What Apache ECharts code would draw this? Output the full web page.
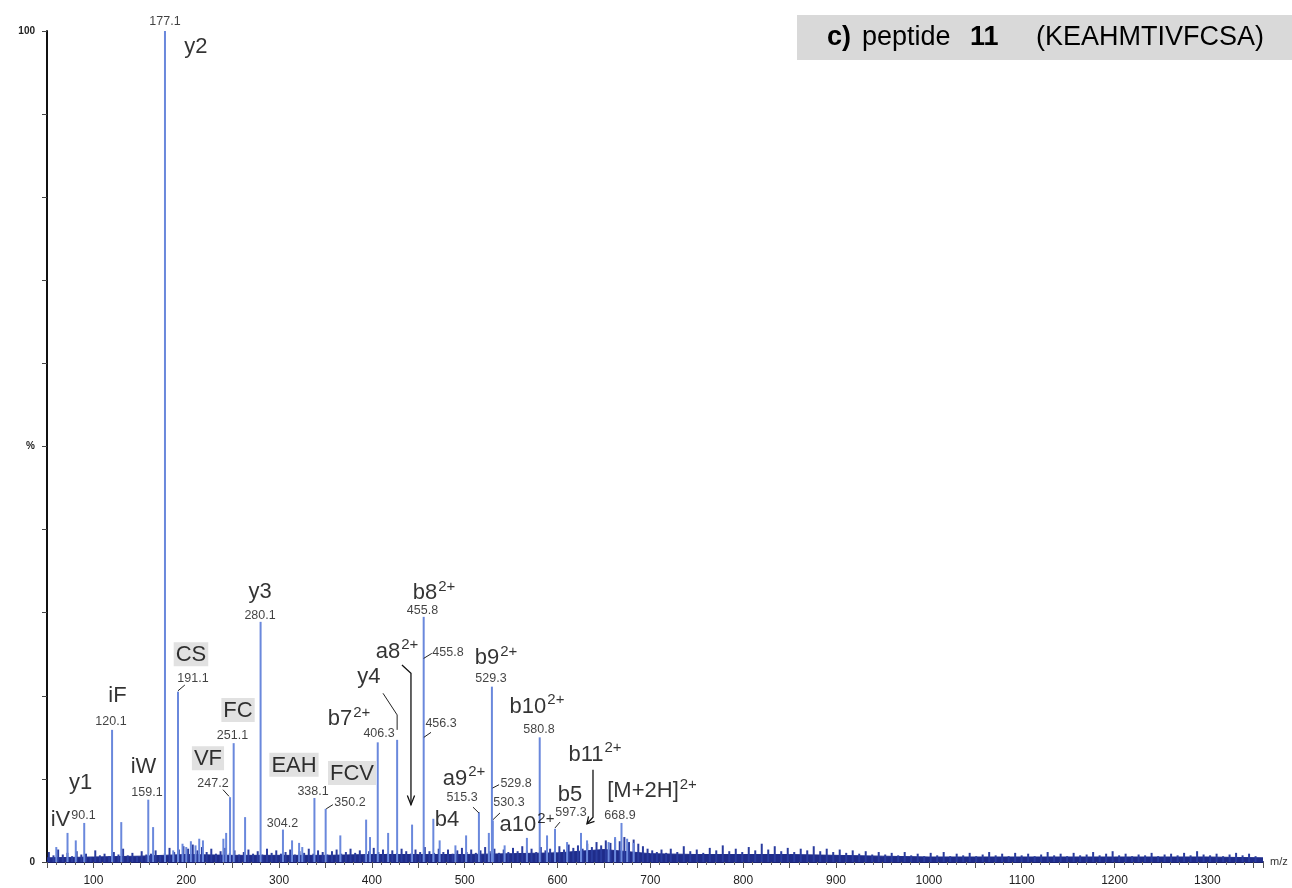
<!DOCTYPE html>
<html>
<head>
<meta charset="utf-8">
<script src="https://cdn.jsdelivr.net/npm/echarts@6/dist/echarts.min.js"></script>
<style>
html, body { margin: 0; padding: 0; background: #fff; }
#chart { width: 1292px; height: 888px; }
</style>
</head>
<body>
<div id="chart"></div>
<script>
// fragment peaks: [m/z, relative intensity %]
var peaks = [
  [60, 1.8], [72.1, 3.5], [81, 2.6], [90.1, 4.7], [120.1, 15.9], [130, 4.8],
  [159.1, 7.5], [164.3, 4.2], [177.1, 100], [186, 1.4], [191.1, 20.5], [196, 2.2],
  [200, 1.8], [205, 2.5], [210, 2.0], [214, 2.8], [218, 2.6], [240, 2.8], [243, 3.5],
  [247.2, 7.8], [251.1, 14.3], [263.4, 5.4], [280.1, 28.9], [304.2, 3.9], [314, 2.6],
  [321.6, 2.3], [325, 1.8], [338.1, 7.7], [350.2, 6.4], [366, 3.2], [393.8, 5.1],
  [398, 3.0], [406.3, 14.4], [417.5, 3.5], [427.2, 14.7], [443.3, 4.5], [455.8, 29.5],
  [466.2, 5.2], [473, 2.6], [490, 2.0], [501.5, 3.2], [515.3, 6.0], [526, 3.5],
  [529.3, 21.1], [530.3, 5.0], [543, 2.0], [567, 2.9], [580.8, 15.0], [588.7, 3.2],
  [597.3, 4.0], [610.3, 2.4], [625.3, 3.5], [631.8, 2.6], [655, 2.4], [662, 3.0],
  [668.9, 4.7], [675, 2.8], [682, 2.3]
];

// baseline noise spikes: [m/z, %]
var noise = [
  [52,1.2],[57,0.8],[62,1.5],[67,0.9],[72,1.1],[77,0.7],[82,1.3],[87,0.9],[92,1.0],[97,0.6],
  [102,1.4],[107,0.8],[112,1.0],[117,0.7],[122,1.2],[127,0.9],[132,1.6],[137,0.8],[142,1.1],[147,0.7],
  [152,1.3],[157,0.9],[162,1.0],[167,1.4],[172,0.8],[177,1.1],[182,1.7],[187,1.2],[192,1.5],[197,1.9],
  [202,1.6],[207,2.1],[212,1.4],[217,1.8],[222,1.2],[227,1.6],[232,1.0],[237,1.3],[242,1.7],[247,1.1],
  [252,1.4],[257,0.9],[262,1.2],[267,1.5],[272,1.0],[277,1.3],[282,0.9],[287,1.6],[292,1.1],[297,1.4],
  [302,1.0],[307,1.2],[312,1.5],[317,0.9],[322,1.3],[327,1.1],[332,1.6],[337,1.0],[342,1.4],[347,1.2],
  [352,0.9],[357,1.3],[362,1.5],[367,1.0],[372,1.2],[377,1.6],[382,1.1],[387,1.4],[392,0.9],[397,1.3],
  [402,1.7],[407,1.2],[412,1.5],[417,1.0],[422,1.4],[427,1.1],[432,1.6],[437,1.3],[442,1.0],[447,1.5],
  [452,1.2],[457,1.8],[462,1.3],[467,1.1],[472,1.6],[477,1.2],[482,1.5],[487,1.0],[492,1.4],[497,1.7],
  [502,1.2],[507,1.5],[512,1.1],[517,1.4],[522,1.8],[527,1.3],[532,1.6],[537,1.1],[542,1.5],[547,1.2],
  [552,1.7],[557,1.3],[562,1.9],[567,1.4],[572,1.6],[577,1.2],[582,1.8],[587,1.4],[592,1.6],[597,1.3],
  [602,1.9],[607,1.5],[612,2.1],[617,1.7],[622,2.0],[627,1.6],[632,2.2],[637,1.8],[642,2.4],[647,2.0],
  [652,2.6],[657,2.3],[662,2.8],[667,2.5],[672,3.0],[677,2.4],[682,2.7],[687,2.2],[692,1.9],[697,1.6],
  [702,1.4],[707,1.2],[712,1.5],[717,1.1],
  [722,1.6],[729,1.2],[736,1.9],[743,1.3],[750,1.5],[757,1.1],[764,1.7],[771,1.4],[778,2.0],[785,1.3],
  [792,1.6],[799,1.2],[806,1.8],[813,1.4],[820,2.2],[827,1.5],[834,1.9],[841,1.3],[848,1.7],[855,1.2],
  [862,1.6],[869,1.4],[876,1.9],[883,1.3],[890,1.6],[897,1.2],[904,1.5],[911,1.1],[918,1.4],[925,1.0],
  [932,1.3],[939,0.9],[946,1.2],[953,0.9],[960,1.1],[967,0.8],[974,1.2],[981,0.8],[988,1.0],[995,0.7],
  [1002,1.1],[1009,0.8],[1016,1.2],[1023,0.7],[1030,1.0],[1037,0.8],[1044,1.1],[1051,0.7],[1058,0.9],[1065,1.2],
  [1072,0.8],[1079,1.0],[1086,0.7],[1093,1.1],[1100,0.8],[1107,1.0],[1114,0.7],[1121,0.9],[1128,1.2],[1135,0.8],
  [1142,1.0],[1149,0.7],[1156,1.1],[1163,0.8],[1170,0.9],[1177,1.2],[1184,0.8],[1191,1.0],[1198,1.3],[1205,0.8],
  [1212,1.0],[1219,0.7],[1226,0.9],[1233,0.8],[1240,1.1],[1247,0.7],[1254,0.9],[1261,1.0],[1268,0.8],[1275,1.1],
  [1282,0.8],[1289,1.3],[1296,0.9],[1303,0.8],[1310,1.0],[1317,0.7],[1324,0.9],[1331,1.1],[1338,0.8],[1345,1.0],
  [1352,0.7]
];

// solid baseline band under the noise: [m/z, %]
var band = [
  [50,0.5],[100,0.6],[150,0.7],[200,0.9],[250,0.8],[300,0.8],[350,0.8],[400,0.9],[450,0.9],
  [500,0.9],[550,1.0],[600,1.1],[650,1.5],[700,1.0],[750,0.9],[800,0.9],[850,0.9],[900,0.8],
  [950,0.7],[1000,0.6],[1050,0.6],[1100,0.6],[1150,0.6],[1200,0.6],[1250,0.6],[1300,0.6],[1360,0.5]
];

// ion annotations: [name, superscript, anchor m/z, anchor %, grey box]
var ionLabels = [
  ['y2', '', 210.5, 98.1, 0], ['CS', '', 205.1, 25.0, 1], ['iF', '', 125.9, 20.0, 0],
  ['iW', '', 154.0, 11.4, 0], ['y1', '', 86.1, 9.5, 0], ['iV', '', 64.5, 5.05, 0],
  ['FC', '', 255.8, 18.3, 1], ['VF', '', 223.4, 12.5, 1], ['y3', '', 279.5, 32.5, 0],
  ['EAH', '', 316.1, 11.7, 1], ['FCV', '', 378.6, 10.7, 1], ['b7', '2+', 375.3, 17.4, 0],
  ['y4', '', 396.8, 22.3, 0], ['a8', '2+', 427.1, 25.5, 0], ['b8', '2+', 466.9, 32.5, 0],
  ['b9', '2+', 533.7, 24.7, 0], ['b10', '2+', 577.9, 18.9, 0], ['a9', '2+', 499.2, 10.2, 0],
  ['b4', '', 480.9, 5.05, 0], ['a10', '2+', 567.1, 4.6, 0], ['b5', '', 613.4, 8.1, 0],
  ['b11', '2+', 640.4, 13.1, 0], ['[M+2H]', '2+', 701.8, 8.7, 0]
];

// m/z tags: [text, anchor m/z, anchor %]
var valueLabels = [
  ['177.1', 177.1, 101.1], ['90.1', 89.3, 5.65], ['120.1', 118.9, 16.85], ['159.1', 157.7, 8.3],
  ['191.1', 207.3, 22.1], ['251.1', 249.8, 15.2], ['247.2', 228.8, 9.5], ['280.1', 279.5, 29.7],
  ['304.2', 303.7, 4.6], ['338.1', 336.6, 8.5], ['350.2', 376.4, 7.1], ['406.3', 407.7, 15.5],
  ['455.8', 454.5, 30.2], ['455.8', 482.0, 25.2], ['456.3', 474.5, 16.7], ['529.3', 528.3, 22.1],
  ['580.8', 580.0, 15.9], ['515.3', 497.1, 7.8], ['529.8', 555.3, 9.5], ['530.3', 547.7, 7.1],
  ['597.3', 614.5, 5.9], ['668.9', 667.3, 5.65]
];

// leader lines, arrows and their open heads, in data coordinates
var leaders = [
  [[191.1, 20.6], [198.5, 21.3]],
  [[239.6, 8.7], [246.1, 7.9]],
  [[350.8, 6.4], [358, 6.9]],
  [[412, 20.3], [427.2, 17.7], [427.2, 15.9]],
  [[455.8, 24.5], [464.5, 25.1]],
  [[456, 15.0], [463.7, 15.6]],
  [[508.9, 6.6], [515.3, 5.9]],
  [[530, 8.9], [537, 9.3]],
  [[530.5, 5.1], [538, 5.9]],
  [[597.3, 4.1], [602.6, 4.8]]
];
var arrows = [
  [[432.4, 23.7], [442.1, 22.7], [442.1, 6.9]],
  [[638.2, 11.1], [638.2, 5.4], [631.7, 4.6]],
  [[438.2, 8.0], [442.1, 6.9], [446.0, 8.0]],
  [[639.8, 4.9], [631.7, 4.6], [633.4, 5.5]]
];

var FONT = '"Liberation Sans", Arial, sans-serif';

var chart = echarts.init(document.getElementById('chart'));

var option = {
  animation: false,
  backgroundColor: '#fff',
  grid: { left: 47, top: 31, width: 1216, height: 831 },
  xAxis: {
    type: 'value',
    min: 50,
    max: 1360,
    interval: 50,
    name: 'm/z',
    nameLocation: 'end',
    nameGap: 7,
    nameTextStyle: { fontSize: 11, color: '#333', fontFamily: FONT },
    axisLine: { lineStyle: { color: '#1b2270', width: 2 } },
    axisTick: { length: 6, lineStyle: { color: '#555' } },
    minorTick: { show: true, splitNumber: 5, length: 3, lineStyle: { color: '#666' } },
    splitLine: { show: false },
    axisLabel: {
      margin: 13,
      fontSize: 12,
      color: '#222',
      fontFamily: FONT,
      formatter: function (v) { return v % 100 === 0 ? String(v) : ''; }
    }
  },
  yAxis: {
    type: 'value',
    min: 0,
    max: 100,
    interval: 10,
    axisLine: { show: true, lineStyle: { color: '#111', width: 2 } },
    axisTick: { length: 5, lineStyle: { color: '#444' } },
    splitLine: { show: false },
    axisLabel: {
      margin: 12,
      fontSize: 10,
      fontWeight: 'bold',
      color: '#222',
      fontFamily: FONT,
      formatter: function (v) {
        if (v === 0) return '0';
        if (v === 50) return '%';
        if (v === 100) return '100';
        return '';
      }
    }
  },
  graphic: [
    { type: 'rect', left: 797, top: 15, shape: { width: 495, height: 45 }, style: { fill: '#d9d9d9' }, z: 10 },
    { type: 'text', x: 827, y: 38, z: 11, style: { text: 'c)', font: 'bold 27px ' + FONT, fill: '#000', verticalAlign: 'middle' } },
    { type: 'text', x: 862, y: 38, z: 11, style: { text: 'peptide', font: '27px ' + FONT, fill: '#000', verticalAlign: 'middle' } },
    { type: 'text', x: 970, y: 38, z: 11, style: { text: '11', font: 'bold 27px ' + FONT, fill: '#000', verticalAlign: 'middle' } },
    { type: 'text', x: 1036, y: 38, z: 11, style: { text: '(KEAHMTIVFCSA)', font: '27px ' + FONT, fill: '#000', verticalAlign: 'middle' } }
  ],
  series: [
    {
      name: 'band', type: 'line', data: band, symbol: 'none', silent: true, z: 1,
      lineStyle: { width: 1, color: '#1f2c8a' },
      areaStyle: { color: '#1f2c8a', opacity: 1 }
    },
    {
      name: 'noise', type: 'bar', data: noise, barWidth: 2, barGap: '-100%', silent: true, z: 2,
      itemStyle: { color: '#2a3c9e' }
    },
    {
      name: 'peaks', type: 'bar', data: peaks, barWidth: 2, barGap: '-100%', silent: true, z: 3,
      itemStyle: { color: '#6a88dc' }
    },
    {
      name: 'ions', type: 'scatter', clip: false, silent: true, z: 6,
      symbolSize: 1, itemStyle: { color: 'rgba(0,0,0,0)' },
      data: ionLabels.map(function (d) {
        var main = d[4] ? '{g|' + d[0] + '}' : '{n|' + d[0] + '}';
        return { value: [d[2], d[3]], name: main + (d[1] ? '{s|' + d[1] + '}' : '') };
      }),
      label: {
        show: true, position: 'inside', formatter: '{b}',
        rich: {
          n: { fontSize: 22, fontFamily: FONT, color: '#000', verticalAlign: 'bottom' },
          g: { fontSize: 22, fontFamily: FONT, color: '#000', verticalAlign: 'bottom', backgroundColor: '#d9d9d9', padding: [2, 2, 0, 2] },
          s: { fontSize: 15, fontFamily: FONT, color: '#000', verticalAlign: 'bottom', padding: [0, 0, 10, 1] }
        }
      }
    },
    {
      name: 'mz', type: 'scatter', clip: false, silent: true, z: 6,
      symbolSize: 1, itemStyle: { color: 'rgba(0,0,0,0)' },
      data: valueLabels.map(function (d) { return { value: [d[1], d[2]], name: d[0] }; }),
      label: { show: true, position: 'inside', formatter: '{b}', fontSize: 12.5, fontFamily: FONT, color: '#111' }
    },
    {
      name: 'leaders', type: 'lines', coordinateSystem: 'cartesian2d', polyline: true, silent: true, z: 5,
      data: leaders.map(function (c) { return { coords: c }; }),
      lineStyle: { color: '#222', width: 1, opacity: 1 }
    },
    {
      name: 'arrows', type: 'lines', coordinateSystem: 'cartesian2d', polyline: true, silent: true, z: 5,
      data: arrows.map(function (c) { return { coords: c }; }),
      lineStyle: { color: '#111', width: 1.3, opacity: 1 }
    }
  ]
};

chart.setOption(option);
</script>
</body>
</html>
